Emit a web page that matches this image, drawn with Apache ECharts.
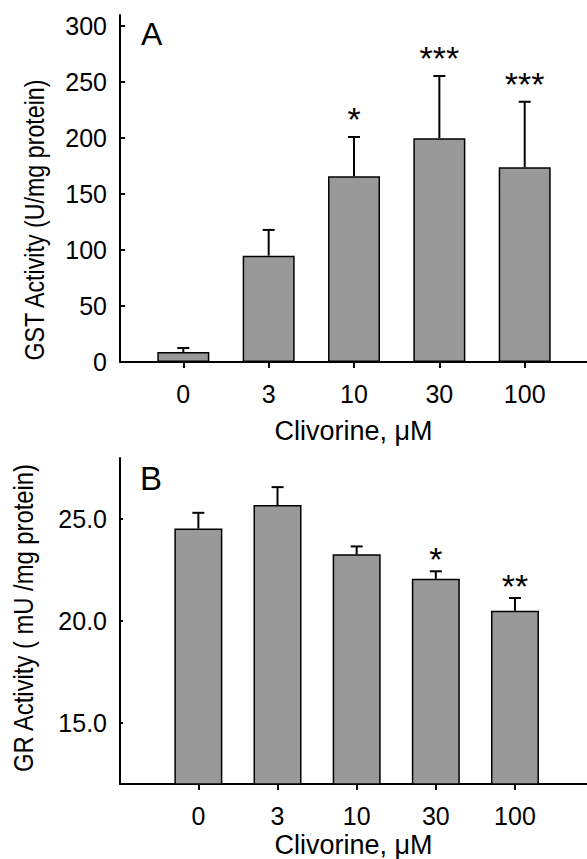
<!DOCTYPE html>
<html>
<head>
<meta charset="utf-8">
<script src="https://cdn.jsdelivr.net/npm/echarts@6/dist/echarts.min.js"></script>
<style>
  html, body { margin: 0; padding: 0; background: #fff; }
  #main { width: 587px; height: 859px; }
</style>
</head>
<body>
<div id="main"></div>
<script>
// 浓度 (Clivorine, μM)
var doses = ['0', '3', '10', '30', '100'];

// A: GST活性
var gstMean = [9, 95, 166, 200, 174];
var gstErr = [12.5, 118, 201, 255.5, 232.5];
var gstSig = ['', '', '*', '***', '***'];
var gstTicks = [0, 50, 100, 150, 200, 250, 300];

// B: GR活性
var grMean = [24.54, 25.69, 23.27, 22.07, 20.5];
var grErr = [25.31, 26.57, 23.66, 22.44, 21.13];
var grSig = ['', '', '', '*', '**'];
var grTicks = [15, 20, 25];

var FONT = "'Liberation Sans', Arial, sans-serif";
var idx = doses.map(function (d, i) { return i; });

function pairs(vals) {
    return vals.map(function (v, i) { return [i, v]; });
}

function errData(mean, err, sig) {
    return mean.map(function (v, i) { return [i, v, err[i], sig[i]]; });
}

// 误差线 + 显著性星号
function makeErrRender(starGap) {
    return function (params, api) {
        var x = api.value(0);
        var p0 = api.coord([x, api.value(1)]);
        var p1 = api.coord([x, api.value(2)]);
        var sig = api.value(3);
        var children = [
            { type: 'line', shape: { x1: p0[0], y1: p0[1], x2: p1[0], y2: p1[1] },
              style: { stroke: '#000', lineWidth: 2 } },
            { type: 'line', shape: { x1: p1[0] - 6, y1: p1[1], x2: p1[0] + 6, y2: p1[1] },
              style: { stroke: '#000', lineWidth: 2 } }
        ];
        if (sig) {
            children.push({
                type: 'text',
                style: { text: sig, x: p1[0], y: p1[1] - starGap, align: 'center', verticalAlign: 'middle',
                         font: '34px ' + FONT, fill: '#000' }
            });
        }
        return { type: 'group', children: children };
    };
}

function xAxisOpt(gridIndex, min, max, margin, nameGap) {
    return {
        type: 'value', gridIndex: gridIndex, min: min, max: max,
        name: 'Clivorine, μM', nameLocation: 'middle', nameGap: nameGap,
        nameTextStyle: { color: '#000', fontSize: 27, fontFamily: FONT },
        axisLine: { onZero: false, lineStyle: { color: '#000', width: 2 } },
        axisTick: { customValues: idx, length: 6, lineStyle: { color: '#000', width: 2 } },
        axisLabel: {
            customValues: idx, margin: margin,
            formatter: function (v) { return doses[Math.round(v)]; },
            color: '#000', fontSize: 25, fontFamily: FONT
        },
        splitLine: { show: false }
    };
}

function yAxisOpt(gridIndex, min, max, ticks, tickLen, fmt) {
    return {
        type: 'value', gridIndex: gridIndex, min: min, max: max,
        axisLine: { show: true, onZero: false, lineStyle: { color: '#000', width: 2 } },
        axisTick: { show: true, inside: true, customValues: ticks, length: tickLen,
                    lineStyle: { color: '#000', width: 2 } },
        axisLabel: { customValues: ticks, margin: 13, formatter: fmt,
                     color: '#000', fontSize: 25, fontFamily: FONT },
        splitLine: { show: false }
    };
}

var myChart = echarts.init(document.getElementById('main'), null, { renderer: 'svg' });

var option = {
    backgroundColor: '#fff',
    animation: false,
    grid: [
        { left: 120, right: 0, top: 15, height: 347 },
        { left: 120, right: 0, top: 458, height: 328 }
    ],
    xAxis: [
        xAxisOpt(0, -0.742, 4.73, 19, 55),
        xAxisOpt(1, -0.99, 4.91, 19, 47)
    ],
    yAxis: [
        yAxisOpt(0, 0, 310, gstTicks, 5, function (v) { return String(v); }),
        yAxisOpt(1, 12, 28, grTicks, 3, function (v) { return v.toFixed(1); })
    ],
    graphic: [
        { type: 'text', left: 141, top: 18, style: { text: 'A', font: '32px ' + FONT, fill: '#000' } },
        { type: 'text', left: 140, top: 462, style: { text: 'B', font: '33px ' + FONT, fill: '#000' } },
        { type: 'text', x: 34, y: 220, rotation: Math.PI / 2, scaleX: 0.83,
          style: { text: 'GST Activity (U/mg protein)', font: '28px ' + FONT, fill: '#000',
                   align: 'center', verticalAlign: 'middle' } },
        { type: 'text', x: 23, y: 618, rotation: Math.PI / 2, scaleX: 0.85,
          style: { text: 'GR Activity ( mU /mg protein)', font: '28px ' + FONT, fill: '#000',
                   align: 'center', verticalAlign: 'middle' } }
    ],
    series: [
        {
            type: 'bar', xAxisIndex: 0, yAxisIndex: 0, barWidth: 52,
            data: pairs(gstMean),
            itemStyle: { color: '#999999', borderColor: '#000', borderWidth: 1.5 }
        },
        {
            type: 'custom', xAxisIndex: 0, yAxisIndex: 0,
            renderItem: makeErrRender(18),
            data: errData(gstMean, gstErr, gstSig), z: 3
        },
        {
            type: 'bar', xAxisIndex: 1, yAxisIndex: 1, barWidth: 48,
            data: pairs(grMean),
            itemStyle: { color: '#999999', borderColor: '#000', borderWidth: 1.5 }
        },
        {
            type: 'custom', xAxisIndex: 1, yAxisIndex: 1,
            renderItem: makeErrRender(12),
            data: errData(grMean, grErr, grSig), z: 3
        }
    ]
};

myChart.setOption(option, true);
</script>
</body>
</html>
